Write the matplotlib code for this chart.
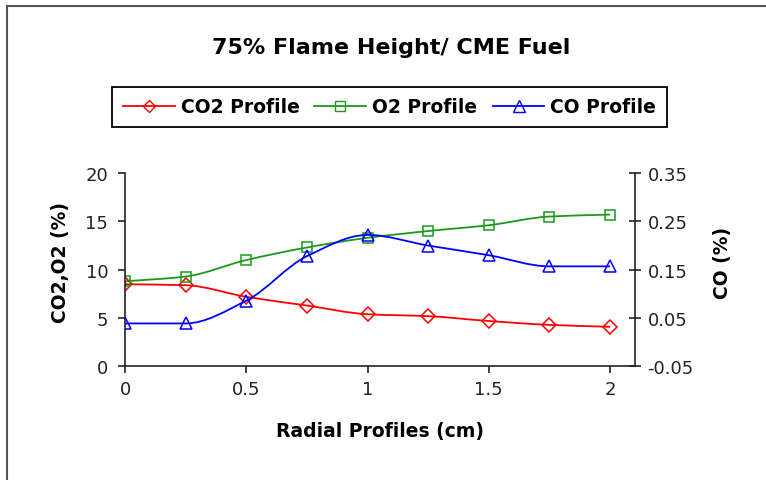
import matplotlib
matplotlib.use('Agg')
import matplotlib.pyplot as plt
import numpy as np
from matplotlib.path import Path
from matplotlib.patches import PathPatch
from matplotlib.lines import Line2D

plt.rcParams['font.family'] = ['DejaVu Sans']

# data
radial = [0, 0.25, 0.5, 0.75, 1.0, 1.25, 1.5, 1.75, 2.0]
co2 = [8.5, 8.4, 7.2, 6.3, 5.4, 5.2, 4.7, 4.3, 4.1]
o2 = [8.8, 9.3, 11.0, 12.3, 13.3, 14.0, 14.6, 15.5, 15.7]
co = [0.039, 0.039, 0.086, 0.178, 0.222, 0.200, 0.180, 0.157, 0.157]

title = '75% Flame Height/ CME Fuel'
labels = ['CO2 Profile', 'O2 Profile', 'CO Profile']

RED = '#ff0000'
GREEN = '#1a9a1a'
BLUE = '#0000ff'
DARK = '#222222'


def smooth_path(x, y):
    # smoothed line like excel: bezier segments through the points,
    # tangents kept monotone so flat parts stay flat
    x = np.asarray(x, float)
    y = np.asarray(y, float)
    h = np.diff(x)
    d = np.diff(y) / h
    m = np.zeros(len(x))
    m[0], m[-1] = d[0], d[-1]
    for i in range(1, len(x) - 1):
        if d[i - 1] * d[i] > 0:
            m[i] = 2 / (1 / d[i - 1] + 1 / d[i])
    if d[0] * d[1] <= 0:
        m[0] = 0
    if d[-1] * d[-2] <= 0:
        m[-1] = 0
    verts = [(x[0], y[0])]
    codes = [Path.MOVETO]
    for i in range(len(x) - 1):
        verts += [(x[i] + h[i] / 3, y[i] + m[i] * h[i] / 3),
                  (x[i + 1] - h[i] / 3, y[i + 1] - m[i + 1] * h[i] / 3),
                  (x[i + 1], y[i + 1])]
        codes += [Path.CURVE4] * 3
    return Path(verts, codes)


fig = plt.figure(figsize=(7.66, 4.81), dpi=100)
ax = fig.add_axes([0.1632, 0.236, 0.6658, 0.4023])
ax2 = ax.twinx()

ax.add_patch(PathPatch(smooth_path(radial, co2), fill=False, edgecolor=RED, lw=1.3))
ax.add_patch(PathPatch(smooth_path(radial, o2), fill=False, edgecolor=GREEN, lw=1.3))
ax2.add_patch(PathPatch(smooth_path(radial, co), fill=False, edgecolor=BLUE, lw=1.3))

ax.plot(radial, co2, ls='none', marker='D', ms=7, mfc='none', mec=RED, mew=1.1)
ax.plot(radial, o2, ls='none', marker='s', ms=7.5, mfc='none', mec=GREEN, mew=1.1)
ax2.plot(radial, co, ls='none', marker='^', ms=9, mfc='none', mec=BLUE, mew=1.1)

ax.set_xlim(0, 2.103)
ax.set_ylim(0, 20)
ax2.set_ylim(-0.05, 0.35)
ax.set_xticks([0, 0.5, 1, 1.5, 2])
ax.set_xticklabels(['0', '0.5', '1', '1.5', '2'])
ax.set_yticks([0, 5, 10, 15, 20])
ax2.set_yticks([-0.05, 0.05, 0.15, 0.25, 0.35])
ax2.set_yticklabels(['-0.05', '0.05', '0.15', '0.25', '0.35'])

for a in (ax, ax2):
    a.spines['top'].set_visible(False)
    for s in a.spines.values():
        s.set_color(DARK)
        s.set_linewidth(1.2)
ax.spines['right'].set_visible(False)
ax2.spines['left'].set_visible(False)
ax2.spines['bottom'].set_visible(False)

ax.tick_params(axis='both', direction='out', length=5, width=1.2, color=DARK,
               labelsize=13, labelcolor=DARK, pad=7)
ax.tick_params(axis='x', pad=5)
ax2.tick_params(axis='y', direction='inout', length=8, width=1.2, color=DARK,
                labelsize=13, labelcolor=DARK, pad=5)

ax.set_xlabel('Radial Profiles (cm)', fontsize=13.5, fontweight='bold', labelpad=16)
ax.set_ylabel('CO2,O2 (%)', fontsize=13.5, fontweight='bold', labelpad=11)
ax2.set_ylabel('CO (%)', fontsize=13.5, fontweight='bold', labelpad=14)
ax.yaxis.label.set_y(0.54)
ax2.yaxis.label.set_y(0.54)

fig.text(0.511, 0.90, title, ha='center', va='center', fontsize=16, fontweight='bold')

handles = [
    Line2D([], [], color=RED, lw=1.3, marker='D', ms=6.5, mfc='none', mec=RED),
    Line2D([], [], color=GREEN, lw=1.3, marker='s', ms=7, mfc='none', mec=GREEN),
    Line2D([], [], color=BLUE, lw=1.3, marker='^', ms=8, mfc='none', mec=BLUE),
]
leg = fig.legend(handles, labels, loc='center', bbox_to_anchor=(0.5085, 0.7755), ncol=3,
                 fancybox=False, edgecolor='black', framealpha=1, handlelength=2.77,
                 columnspacing=0.8, handletextpad=0.32, borderpad=0.55,
                 prop={'weight': 'bold', 'size': 13.5})
leg.get_frame().set_linewidth(1.3)

# chart area border (only top and left visible)
fig.add_artist(Line2D([7 / 766, 7 / 766], [0, 1 - 7 / 481], color='#555555', lw=1.5))
fig.add_artist(Line2D([7 / 766, 1], [1 - 7 / 481, 1 - 7 / 481], color='#555555', lw=1.5))

fig.savefig('out.png', dpi=100)
